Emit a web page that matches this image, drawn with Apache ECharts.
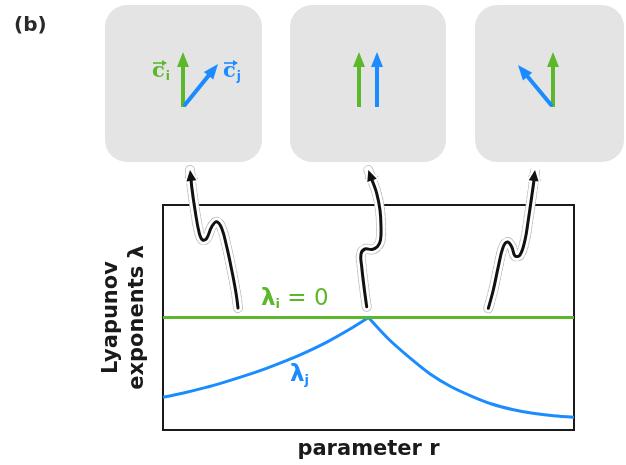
<!DOCTYPE html>
<html>
<head>
<meta charset="utf-8">
<script src="https://cdn.jsdelivr.net/npm/echarts@6/dist/echarts.min.js"></script>
<style>
  html, body { margin: 0; padding: 0; background: #fff; }
  #chart { width: 626px; height: 465px; }
</style>
</head>
<body>
<div id="chart"></div>
<script>
// Parameter r (normalised 0..1) and the Lyapunov exponent lambda_j on each side of the crossing
const rLeft = [0, 0.05, 0.1, 0.15, 0.2, 0.25, 0.3, 0.35, 0.4, 0.45, 0.5];
const lamJLeft = [-0.709, -0.671, -0.626, -0.574, -0.517, -0.454, -0.384, -0.305, -0.216, -0.114, 0];
const rRight = [0.5, 0.55, 0.6, 0.65, 0.7, 0.75, 0.8, 0.85, 0.9, 0.95, 1.0];
const lamJRight = [0, -0.196, -0.357, -0.502, -0.613, -0.698, -0.769, -0.818, -0.852, -0.874, -0.887];
// lambda_i stays at zero over the whole range
const rI = [0, 1];
const lamI = [0, 0];

const GREEN = '#5bb82a';
const BLUE = '#1a8cff';
const INK = '#1a1a1a';

const zip = (a, b) => a.map((v, i) => [v, b[i]]);

// Arrow built from a shaft and a triangular head
function vectorArrow(x0, y0, x1, y1, color, width, headLen, headW) {
  const dx = x1 - x0, dy = y1 - y0;
  const L = Math.hypot(dx, dy);
  const ux = dx / L, uy = dy / L;
  const nx = -uy, ny = ux;
  const bx = x1 - ux * headLen, by = y1 - uy * headLen;
  return [
    { type: 'line', shape: { x1: x0, y1: y0, x2: bx + ux * 1, y2: by + uy * 1 },
      style: { stroke: color, lineWidth: width }, z: 10 },
    { type: 'polygon',
      shape: { points: [[x1, y1], [bx + nx * headW / 2, by + ny * headW / 2], [bx - nx * headW / 2, by - ny * headW / 2]] },
      style: { fill: color }, z: 10 }
  ];
}

// Wavy pointer: dashed grey outline, white halo, black stroke and head
function wavyPointer(pts) {
  const n = pts.length;
  const tip = pts[n - 1], prev = pts[n - 3];
  const dx = tip[0] - prev[0], dy = tip[1] - prev[1];
  const L = Math.hypot(dx, dy);
  const ux = dx / L, uy = dy / L, nx = -uy, ny = ux;
  const hl = 11, hw = 10;
  const bx = tip[0] - ux * hl, by = tip[1] - uy * hl;
  const head = [[tip[0], tip[1]], [bx + nx * hw / 2, by + ny * hw / 2], [bx - nx * hw / 2, by - ny * hw / 2]];
  const shaft = pts.slice(0, n - 1).concat([[bx + ux * 2, by + uy * 2]]);
  return [
    { type: 'polyline', shape: { points: pts, smooth: 0.4 },
      style: { stroke: '#b8b8b8', lineWidth: 10, lineDash: [2, 3], lineCap: 'round', lineJoin: 'round', fill: null }, z: 20 },
    { type: 'polygon', shape: { points: head },
      style: { fill: '#fff', stroke: '#b8b8b8', lineWidth: 5, lineDash: [2, 3], lineJoin: 'round' }, z: 20 },
    { type: 'polyline', shape: { points: pts, smooth: 0.4 },
      style: { stroke: '#fff', lineWidth: 8.5, lineCap: 'round', lineJoin: 'round', fill: null }, z: 21 },
    { type: 'polygon', shape: { points: head },
      style: { fill: '#fff', stroke: '#fff', lineWidth: 3.5, lineJoin: 'round' }, z: 21 },
    { type: 'polyline', shape: { points: shaft, smooth: 0.4 },
      style: { stroke: '#111', lineWidth: 3, lineCap: 'round', lineJoin: 'round', fill: null }, z: 22 },
    { type: 'polygon', shape: { points: head }, style: { fill: '#111' }, z: 22 }
  ];
}

// Vector symbol: letter c with subscript and a small arrow above it
function vecLabel(x, y, sub, color) {
  return [
    { type: 'text', x: x, y: y, z: 30,
      style: { text: '{c|c}{s|' + sub + '}',
        rich: { c: { fill: color, font: 'bold 21px "DejaVu Serif"' },
                s: { fill: color, font: 'bold 12px "DejaVu Sans"', padding: [11, 0, 0, 1] } } } },
    { type: 'line', shape: { x1: x + 1, y1: y + 3, x2: x + 12, y2: y + 3 },
      style: { stroke: color, lineWidth: 1.6 }, z: 30 },
    { type: 'polygon', shape: { points: [[x + 15, y + 3], [x + 10, y], [x + 10, y + 6]] },
      style: { fill: color }, z: 30 }
  ];
}

const boxes = [
  { type: 'rect', shape: { x: 105, y: 5, width: 157, height: 157, r: 22 }, style: { fill: '#e4e4e4' }, z: 1 },
  { type: 'rect', shape: { x: 290, y: 5, width: 156, height: 157, r: 22 }, style: { fill: '#e4e4e4' }, z: 1 },
  { type: 'rect', shape: { x: 475, y: 5, width: 149, height: 157, r: 22 }, style: { fill: '#e4e4e4' }, z: 1 }
];

const vectors = [].concat(
  vectorArrow(183, 107, 183, 52, GREEN, 4, 15, 12),
  vectorArrow(184, 106, 218, 64, BLUE, 4, 15, 12),
  vectorArrow(359, 107, 359, 52, GREEN, 4, 15, 12),
  vectorArrow(377, 107, 377, 52, BLUE, 4, 15, 12),
  vectorArrow(553, 107, 553, 52, GREEN, 4, 15, 12),
  vectorArrow(552, 106, 518, 65, BLUE, 4, 15, 12),
  vecLabel(152, 60, 'i', GREEN),
  vecLabel(223, 60, 'j', BLUE)
);

const pointers = [].concat(
  wavyPointer([[238, 308], [236, 293], [231.7, 270], [226.7, 246.7], [221.7, 228.3], [216.7, 221.7],
               [211.7, 226.7], [206.7, 238.3], [202.7, 240], [199.3, 233.3], [195, 210], [191.7, 186.7], [190, 170]]),
  wavyPointer([[366.7, 306.7], [364, 286.7], [361.7, 266.7], [361, 254], [365, 249], [372, 249.5],
               [377.5, 246.5], [380.5, 240], [381, 226.7], [380, 210], [376.7, 193.3], [372, 180], [368.3, 170]]),
  wavyPointer([[488.3, 308.3], [493.3, 290], [498.3, 266.7], [503, 247.5], [507.3, 242], [511.7, 246.7],
               [515, 256], [520, 255], [525, 240], [528.3, 220], [531.7, 196.7], [534, 180], [535, 170]])
);

const labels = [
  { type: 'text', x: 14, y: 16, z: 30,
    style: { text: '(b)', fill: '#2a2a2a', font: 'bold 20px "DejaVu Sans"' } },
  { type: 'text', x: 261, y: 287, z: 30,
    style: { text: '{l|\u03bb}{s|i}{e| = 0}',
      rich: { l: { fill: GREEN, font: 'bold 23px "DejaVu Sans"' },
              s: { fill: GREEN, font: 'bold 13px "DejaVu Sans"', padding: [11, 0, 0, 0] },
              e: { fill: GREEN, font: '23px "DejaVu Sans"' } } } },
  { type: 'text', x: 290, y: 363, z: 30,
    style: { text: '{l|\u03bb}{s|j}',
      rich: { l: { fill: BLUE, font: 'bold 23px "DejaVu Sans"' },
              s: { fill: BLUE, font: 'bold 13px "DejaVu Sans"', padding: [11, 0, 0, 0] } } } }
];

const chart = echarts.init(document.getElementById('chart'), null, { renderer: 'canvas' });
chart.setOption({
  animation: false,
  backgroundColor: '#fff',
  grid: { left: 163, right: 52, top: 205, bottom: 35, show: true,
          borderColor: INK, borderWidth: 2, backgroundColor: 'transparent' },
  xAxis: {
    type: 'value', min: 0, max: 1,
    name: 'parameter r', nameLocation: 'middle', nameGap: 9,
    nameTextStyle: { color: INK, fontFamily: 'DejaVu Sans', fontWeight: 'bold', fontSize: 21, verticalAlign: 'top' },
    axisLine: { show: false }, axisTick: { show: false }, axisLabel: { show: false }, splitLine: { show: false }
  },
  yAxis: {
    type: 'value', min: -1, max: 1,
    name: 'Lyapunov\nexponents \u03bb', nameLocation: 'middle', nameGap: 12, nameRotate: 90,
    nameTextStyle: { color: INK, fontFamily: 'DejaVu Sans', fontWeight: 'bold', fontSize: 21, lineHeight: 26 },
    axisLine: { show: false }, axisTick: { show: false }, axisLabel: { show: false }, splitLine: { show: false }
  },
  series: [
    { name: 'lambda_j', type: 'line', data: zip(rLeft, lamJLeft), smooth: 0.3, symbol: 'none',
      lineStyle: { color: BLUE, width: 3 }, z: 3 },
    { name: 'lambda_j', type: 'line', data: zip(rRight, lamJRight), smooth: 0.3, symbol: 'none',
      lineStyle: { color: BLUE, width: 3 }, z: 3 },
    { name: 'lambda_i', type: 'line', data: zip(rI, lamI), symbol: 'none',
      lineStyle: { color: GREEN, width: 3 }, z: 4 }
  ],
  graphic: boxes.concat(vectors, pointers, labels)
});
</script>
</body>
</html>
